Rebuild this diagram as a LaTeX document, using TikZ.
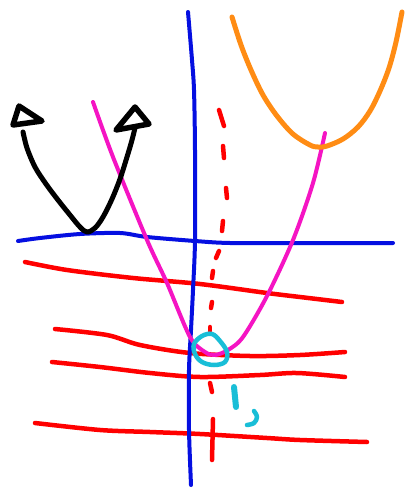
\documentclass[tikz,border=0pt]{standalone}
\begin{document}
\begin{tikzpicture}[x=1pt,y=-1pt,
  line cap=round,line join=round,
  pen/.style={line width=4.5pt},
  redpen/.style={pen,draw=skred},
  ]
\definecolor{skred}{RGB}{255,0,0}
\definecolor{skblue}{RGB}{5,15,225}
\definecolor{skmag}{RGB}{245,20,195}
\definecolor{skorange}{RGB}{255,140,20}
\definecolor{skcyan}{RGB}{25,190,215}
\useasboundingbox[fill=white] (0,0) rectangle (405,493);
% red horizontal lines
\draw[redpen] plot[smooth,tension=0.5] coordinates {(25,262) (67,270) (133,278) (200,284) (267,293) (300,297) (342,302)};
\draw[redpen] plot[smooth,tension=0.5] coordinates {(55,329) (107,335) (140,345) (190,353) (250,356) (300,355) (345,352)};
\draw[redpen] plot[smooth,tension=0.5] coordinates {(52,362) (100,367) (150,373) (200,377) (260,375) (297,373) (345,377)};
\draw[redpen] plot[smooth,tension=0.5] coordinates {(35,423) (100,430) (150,432) (200,434) (267,438) (300,440) (367,442)};
% blue axes
\draw[pen,draw=skblue,line width=4pt] plot[smooth,tension=0.5] coordinates {(188,12) (192,60) (194,90) (195,150) (195,240) (193,290) (191,330) (189,370) (189,430) (191,485)};
\draw[pen,draw=skblue,line width=4pt] plot[smooth,tension=0.5] coordinates {(18,241) (40,238) (80,234) (120,233) (147,237) (195,241) (230,243) (300,243) (393,243)};
% magenta parabola
\draw[pen,draw=skmag,line width=4pt] plot[smooth,tension=0.5] coordinates {(93,102) (113,157) (147,240) (167,283) (190,337) (205,352) (215,355) (228,350) (243,337) (267,296) (293,240) (313,183) (325,133)};
% orange parabola
\draw[pen,draw=skorange,line width=5pt] plot[smooth,tension=0.55] coordinates {(232,17) (241,45) (251,70) (263,95) (277,116) (293,134) (310,145) (318,147) (327,146) (343,139) (358,127) (370,111) (380,91) (389,68) (396,42) (402,12)};
% black parabola with arrowheads
\draw[pen,draw=black,line width=5pt] plot[smooth,tension=0.55] coordinates {(23,132) (27,148) (35,167) (46,184) (58,200) (70,215) (80,227) (87,232) (95,228) (103,217) (112,199) (120,179) (127,157) (132,140) (136,124)};
\draw[line width=5.5pt,draw=black,fill=white] (19,106) -- (42,121) -- (13,125) -- cycle;
\draw[line width=5.5pt,draw=black,fill=white] (135,107) -- (149,124) -- (116,130) -- cycle;
% red dotted vertical line
\foreach \a/\b in {{(219,110)/(224,126)},{(223,146)/(224,158)},{(226,188)/(227,198)},{(223,221)/(222,231)},{(219,251)/(216,258)},{(213,271)/(212,278)},{(212,302)/(211,308)},{(210,327)/(210,331)},{(210,383)/(212,392)},{(213,419)/(212,460)}}
  \draw[redpen] \a -- \b;
% cyan marks
\draw[pen,draw=skcyan] plot[smooth cycle,tension=0.6] coordinates {(194,344) (202,336) (212,334) (220,341) (227,352) (225,362) (214,365) (202,362) (195,354)};
\draw[draw=skcyan,line width=6pt] (234,387) -- (236,407);
\draw[pen,draw=skcyan] plot[smooth,tension=0.6] coordinates {(254,411) (257,417) (254,423) (247,425)};
\end{tikzpicture}
\end{document}
